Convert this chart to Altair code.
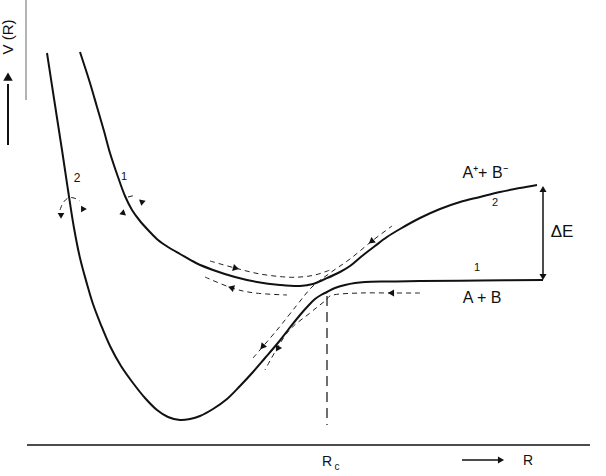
import altair as alt
import pandas as pd

W, H = 606, 476

# Upper adiabatic curve (labelled 1 on the left, 2 on the right)
upper_R = [80, 90, 97, 104, 110, 118, 125, 132, 140, 149, 158, 168, 180, 196, 213, 235, 257, 280, 300, 313, 325, 340, 350, 362, 375, 387, 400, 420, 440, 460, 480, 500, 520, 537]
upper_V = [52, 83, 107, 131, 153, 177, 196, 210, 221, 231, 240, 247, 254, 263, 270, 277, 282, 285, 286, 284, 279, 272, 266, 256, 246, 237, 229, 218, 209, 202, 197, 192, 188, 185]

# Lower adiabatic curve (deep well, labelled 2 on the left, 1 on the right)
lower_R = [47, 55, 62, 68, 74, 80, 87, 93, 101, 110, 121, 133, 145, 157, 168, 180, 190, 200, 213, 227, 240, 253, 265, 277, 288, 300, 308, 315, 321, 327, 335, 345, 355, 365, 390, 420, 480, 543]
lower_V = [53, 105, 150, 190, 228, 258, 284, 304, 325, 346, 366, 383, 398, 410, 417, 420, 419, 416, 409, 399, 386, 372, 358, 344, 330, 315, 306, 299, 295, 292, 288, 285, 283, 282, 281.5, 281, 280.5, 280]

# Dashed trajectories
trajA_R = [210, 235, 260, 285, 300, 315, 330]
trajA_V = [261, 268, 274, 277, 277, 275, 270]
trajB_R = [205, 232, 255, 287]
trajB_V = [277, 288, 293, 295]
trajC_R = [420, 390, 360, 333, 325, 310, 287, 265]
trajC_V = [293, 293, 293, 295, 301, 313, 333, 370]
trajD_R = [253, 277, 297, 312, 330, 350, 372, 392]
trajD_V = [358, 330, 305, 287, 273, 259, 241, 226]
arc2_R = [60, 63, 68, 74, 80]
arc2_V = [210, 203, 198, 198, 201]
arc1_R = [128, 136]
arc1_V = [197, 195]

# Straight solid segments (R, V) -> (R2, V2)
seg_R = [27, 462, 26, 543]
seg_V = [445, 460, 0, 190]
seg_R2 = [590, 498, 26, 543]
seg_V2 = [445, 460, 100, 276]
seg_col = ["#111111", "#111111", "#9a9a9a", "#111111"]

# Vertical arrow beside the V(R) label
varrow_R = [8, 8, 8, 8, 8, 8, 8]
varrow_V = [145, 135, 125, 115, 105, 95, 84]

# Arrow heads
head_R = [235, 232, 263, 372, 392, 278, 61, 83, 123, 142, 543, 543, 500, 8]
head_V = [268, 288, 346, 241, 293, 348, 215, 209, 213, 202, 190, 276, 460, 78]
head_ang = [105, 288, 220, 231, 270, 211, 180, 330, 10, 310, 0, 180, 90, 0]
head_size = [50, 50, 50, 50, 50, 50, 45, 45, 45, 45, 50, 50, 50, 90]

# Labels
lab_text = ["V (R)", "2", "1", "A⁺+ B⁻", "2", "ΔE", "1", "A + B", "R", "c", "R"]
lab_R = [8, 77, 124, 485, 495, 562, 477, 482, 327, 337, 528]
lab_V = [37, 178, 177, 173, 203, 232, 268, 298, 462, 467, 461]
lab_size = [15, 12, 11, 16, 11, 17, 11, 16, 14, 10, 14]
lab_ang = [270, 0, 0, 0, 0, 0, 0, 0, 0, 0, 0]

xs = alt.Scale(domain=[0, W], nice=False, zero=False)
ys = alt.Scale(domain=[0, H], nice=False, zero=False, reverse=True)
X = lambda f: alt.X(f, type="quantitative", scale=xs, axis=None)
Y = lambda f: alt.Y(f, type="quantitative", scale=ys, axis=None)

curves = pd.concat([
    pd.DataFrame({"R": upper_R, "V": upper_V, "c": "upper"}),
    pd.DataFrame({"R": lower_R, "V": lower_V, "c": "lower"}),
])
curve_layer = alt.Chart(curves).mark_line(
    color="#111111", strokeWidth=2, interpolate="catmull-rom"
).encode(x=X("R"), y=Y("V"), detail="c:N")

rows = []
for name, rr, vv in [("A", trajA_R, trajA_V), ("B", trajB_R, trajB_V),
                     ("C", trajC_R, trajC_V), ("D", trajD_R, trajD_V),
                     ("arc2", arc2_R, arc2_V), ("arc1", arc1_R, arc1_V)]:
    for i, (r, v) in enumerate(zip(rr, vv)):
        rows.append({"R": r, "V": v, "id": name, "o": i})
traj = pd.DataFrame(rows)
traj_layer = alt.Chart(traj).mark_line(
    color="#222222", strokeWidth=1, strokeDash=[5, 4], interpolate="cardinal"
).encode(x=X("R"), y=Y("V"), detail="id:N", order="o:Q")

segs = pd.DataFrame({"R": seg_R, "R2": seg_R2, "V": seg_V, "V2": seg_V2, "col": seg_col})
seg_layer = alt.Chart(segs).mark_rule(strokeWidth=1.5).encode(
    x=X("R"), x2="R2:Q", y=Y("V"), y2="V2:Q",
    color=alt.Color("col:N", scale=None),
)

va = pd.DataFrame({"R": varrow_R, "V": varrow_V, "o": list(range(len(varrow_R)))})
va_layer = alt.Chart(va).mark_line(color="#111111", strokeWidth=2).encode(
    x=X("R"), y=Y("V"), order="o:Q"
)

heads = pd.DataFrame({"R": head_R, "V": head_V, "a": head_ang, "s": head_size})
head_layer = alt.Chart(heads).mark_point(
    shape="triangle", filled=True, color="#111111", opacity=1
).encode(x=X("R"), y=Y("V"), angle=alt.Angle("a:Q", scale=None),
         size=alt.Size("s:Q", scale=None))

rc = pd.DataFrame({"R": [327], "V": [296], "V2": [425]})
rc_layer = alt.Chart(rc).mark_rule(strokeWidth=1.3, strokeDash=[10, 6], color="#222222").encode(
    x=X("R"), y=Y("V"), y2="V2:Q"
)

labels = pd.DataFrame({"t": lab_text, "R": lab_R, "V": lab_V, "s": lab_size, "a": lab_ang})
text_layer = alt.Chart(labels).mark_text(
    font="Liberation Sans", color="#111111", align="center", baseline="middle"
).encode(
    x=X("R"), y=Y("V"), text="t:N",
    size=alt.Size("s:Q", scale=None), angle=alt.Angle("a:Q", scale=None)
)

chart = alt.layer(
    seg_layer, va_layer, rc_layer, curve_layer, traj_layer, head_layer, text_layer
).properties(
    width=W, height=H, padding=0, autosize=alt.AutoSizeParams(type="none"), background="white"
).configure_view(strokeWidth=0)

chart.save("out.html", embed_options={"renderer": "svg", "actions": False})
